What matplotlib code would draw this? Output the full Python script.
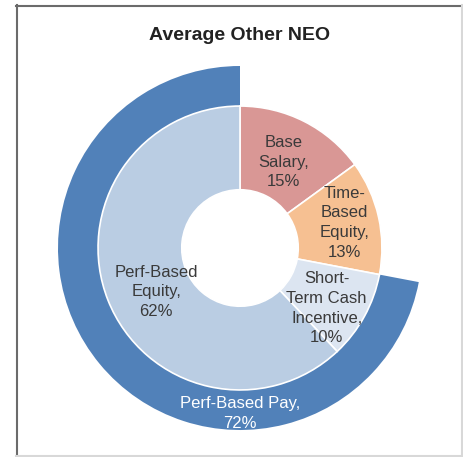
import matplotlib.pyplot as plt
import numpy as np
from matplotlib.lines import Line2D

plt.rcParams['font.family'] = ['Liberation Sans', 'DejaVu Sans']

# inner ring: pay components (clockwise from 12 o'clock)
inner_labels = ['Base\nSalary,\n15%', 'Time-\nBased\nEquity,\n13%',
                'Short-\nTerm Cash\nIncentive,\n10%', 'Perf-Based\nEquity,\n62%']
inner_vals = [15, 13, 10, 62]
inner_colors = ['#d99795', '#f6c092', '#dce5f1', '#bacde3']

# outer ring: performance-based pay
outer_vals = [28, 72]
outer_colors = ['none', '#5181b9']
outer_label = 'Perf-Based Pay,\n72%'

W, H = 463, 457
fig = plt.figure(figsize=(W / 100, H / 100), dpi=100)
fig.patch.set_facecolor('white')

cx, cy, R = 240, 248, 182
ax = fig.add_axes([(cx - R) / W, (H - cy - R) / H, 2 * R / W, 2 * R / H])
ax.set_aspect('equal')

r_out, r_mid, r_hole = 1.0, 0.78, 0.32

ax.pie(outer_vals, radius=r_out, startangle=90, counterclock=False,
       colors=outer_colors, wedgeprops=dict(width=r_out - r_mid, edgecolor='none'))
ax.pie(inner_vals, radius=r_mid, startangle=90, counterclock=False,
       colors=inner_colors, wedgeprops=dict(width=r_mid - r_hole, edgecolor='white', linewidth=1.2))
ax.set_xlim(-1, 1)
ax.set_ylim(-1, 1)

# labels near the middle of each inner wedge (radius, angle shift in degrees)
cum = np.cumsum([0] + inner_vals)
label_r = [0.53, 0.59, 0.58, 0.52]
label_shift = [0, -1, 6, -6]
for i, lab in enumerate(inner_labels):
    mid = np.deg2rad((cum[i] + cum[i + 1]) / 2 * 3.6 + label_shift[i])
    x = label_r[i] * np.sin(mid)
    y = label_r[i] * np.cos(mid)
    ax.text(x, y, lab, ha='center', va='center', fontsize=12,
            color='#3a3a3a', linespacing=1.38)

ax.text(0, -0.91, outer_label, ha='center', va='center', fontsize=12,
        color='white', linespacing=1.38)

fig.text(cx / W, 1 - 35 / H, 'Average Other NEO', ha='center', va='center',
         fontsize=14, fontweight='bold', color='#222222')

# chart frame
def px(x, y):
    return x / W, 1 - y / H

for (x0, y0), (x1, y1), c in [((16.5, 5), (16.5, 457), '#6b6b6b'),
                               ((16, 5.5), (463, 5.5), '#6b6b6b'),
                               ((462, 5), (462, 456), '#d8d8d8'),
                               ((16, 456), (463, 456), '#d8d8d8')]:
    a, b = px(x0, y0)
    c2, d = px(x1, y1)
    fig.add_artist(Line2D([a, c2], [b, d], color=c, linewidth=1.5))

fig.savefig('out.png', dpi=100)
